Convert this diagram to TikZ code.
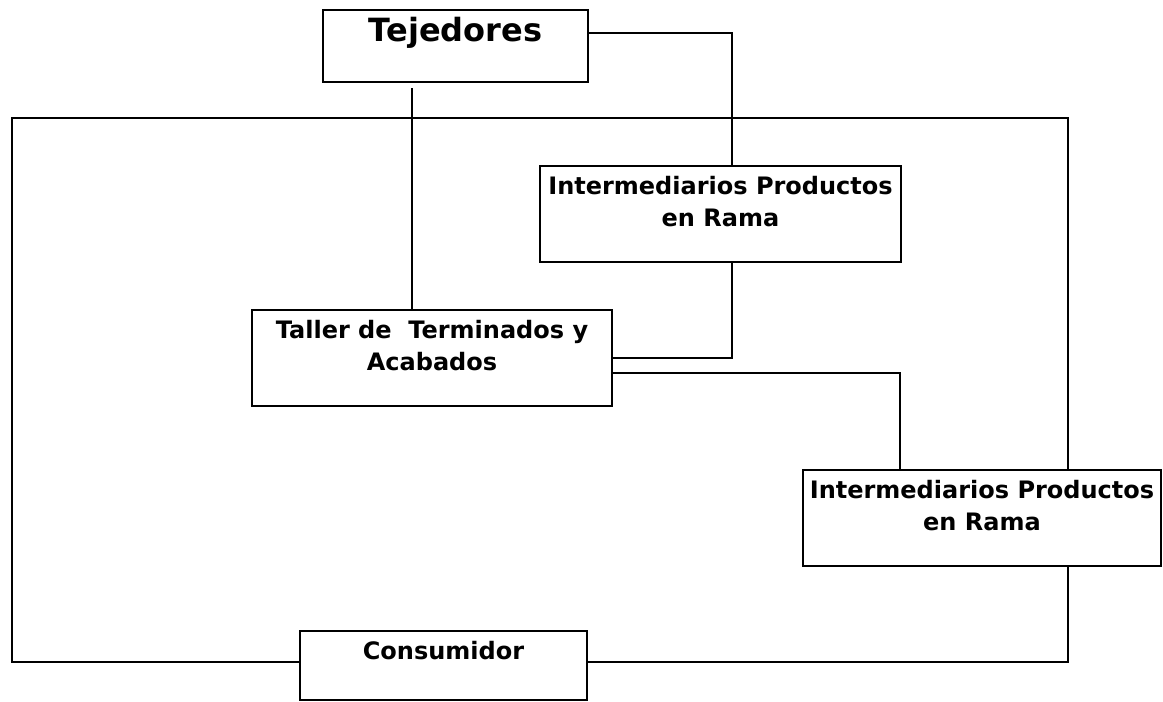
\documentclass[tikz,border=0pt]{standalone}
\usepackage{fontspec}
\setmainfont{DejaVu Sans}
\begin{document}
\begin{tikzpicture}[x=1pt, y=-1pt, line width=2pt,
    box/.style={draw, rectangle, inner sep=0pt},
    tag/.style={font=\bfseries\fontsize{24}{32}\selectfont, align=center, inner sep=0pt, anchor=north}]
    \useasboundingbox (0,0) rectangle (1163,702);

    % Boxes
    \node[box, minimum width=265pt, minimum height=72pt] (tej) at (455.5,46) {};
    \node[box, minimum width=361pt, minimum height=96pt] (int1) at (720.5,214) {};
    \node[box, minimum width=360pt, minimum height=96pt] (tal) at (432,358) {};
    \node[box, minimum width=358pt, minimum height=96pt] (int2) at (982,518) {};
    \node[box, minimum width=287pt, minimum height=69pt] (con) at (443.5,665.5) {};

    % Texts at the top of the boxes
    \node[tag, font=\bfseries\fontsize{32}{38}\selectfont] (tejtxt) at ([yshift=-7pt]tej.north) {Tejedores};
    \node[tag] (int1txt) at ([yshift=-10pt]int1.north) {Intermediarios Productos\\en Rama};
    \node[tag] (taltxt) at ([yshift=-10pt]tal.north) {Taller de\ \ Terminados y\\Acabados};
    \node[tag] (int2txt) at ([yshift=-10pt]int2.north) {Intermediarios Productos\\en Rama};
    \node[tag] (contxt) at ([yshift=-10pt]con.north) {Consumidor};

    % Corner of the outer loop
    \coordinate (lt) at (12,118);

    % Connectors
    \draw ([yshift=13pt]tej.east) -| ([xshift=11.5pt]int1.north);
    \draw ([xshift=-43.5pt,yshift=-5pt]tej.south) -- ([xshift=-43.5pt]tej.south |- tal.north);
    \draw ([xshift=11.5pt]int1.south) |- (tal.east);
    \draw ([yshift=-15pt]tal.east) -| ([xshift=-82pt]int2.north);

    % Outer loop to the consumer
    \draw ([yshift=4pt]con.west) -| (lt) -| ([xshift=86pt]int2.north);
    \draw ([xshift=86pt]int2.south) |- ([yshift=4pt]con.east);
\end{tikzpicture}
\end{document}
